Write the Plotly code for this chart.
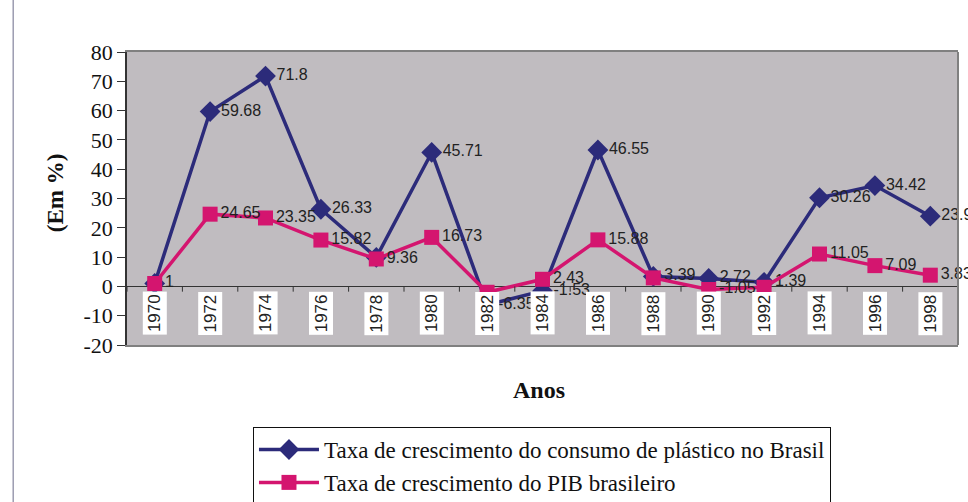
import plotly.graph_objects as go

years = ["1970", "1972", "1974", "1976", "1978", "1980", "1982", "1984",
         "1986", "1988", "1990", "1992", "1994", "1996", "1998"]
plastico = [1.0, 59.68, 71.8, 26.33, 9.9, 45.71, -6.35, -1.53, 46.55, 3.39,
            2.72, 1.39, 30.26, 34.42, 23.96]
plastico_labels = ["", "59.68", "71.8", "26.33", "", "45.71", "-6.35", "-1.53",
                   "46.55", "3.39", "2.72", "1.39", "30.26", "34.42", "23.96"]
pib = [1.0, 24.65, 23.35, 15.82, 9.36, 16.73, -2.0, 2.43, 15.88, 2.9,
       -1.05, -0.3, 11.05, 7.09, 3.83]
pib_labels = ["1", "24.65", "23.35", "15.82", "9.36", "16.73", "", "2.43",
              "15.88", "", "-1.05", "", "11.05", "7.09", "3.83"]
y_ticks = [-20, -10, 0, 10, 20, 30, 40, 50, 60, 70, 80]
y_tick_text = ["-20", "-10", "0", "10", "20", "30", "40", "50", "60", "70", "80"]

name_plast = "Taxa de crescimento do consumo de plástico no Brasil"
name_pib = "Taxa de crescimento do PIB brasileiro"

BLUE = "#2c2b7a"
PINK = "#d4156f"

fig = go.Figure()
fig.add_trace(go.Scatter(
    x=years, y=plastico, name=name_plast, mode="lines+markers+text",
    line=dict(color=BLUE, width=3.5),
    marker=dict(symbol="diamond", size=16, color=BLUE),
    text=plastico_labels, textposition="middle right",
    textfont=dict(family="Liberation Sans, Arial", size=16, color="#222"),
    cliponaxis=False))
fig.add_trace(go.Scatter(
    x=years, y=pib, name=name_pib, mode="lines+markers+text",
    line=dict(color=PINK, width=3.5),
    marker=dict(symbol="square", size=15, color=PINK),
    text=pib_labels, textposition="middle right",
    textfont=dict(family="Liberation Sans, Arial", size=16, color="#222"),
    cliponaxis=False))

annotations = []
for i, yr in enumerate(years):
    annotations.append(dict(
        x=i, y=0, xref="x", yref="y", text=yr, textangle=-90,
        showarrow=False, yanchor="top", xanchor="center", yshift=-5,
        bgcolor="white", borderpad=2,
        font=dict(family="Liberation Sans, Arial", size=17, color="#222")))
annotations.append(dict(
    x=-0.086, y=0.52, xref="paper", yref="paper", text="<b>(Em %)</b>",
    textangle=-90, showarrow=False, xanchor="center", yanchor="middle",
    font=dict(family="Liberation Serif, Times New Roman", size=23, color="#111")))
annotations.append(dict(
    x=0.496, y=-0.154, xref="paper", yref="paper", text="<b>Anos</b>",
    showarrow=False, xanchor="center", yanchor="middle",
    font=dict(family="Liberation Serif, Times New Roman", size=24, color="#111")))

shapes = []
for i in range(len(years) + 1):
    shapes.append(dict(type="line", xref="x", yref="y", x0=i - 0.5, x1=i - 0.5,
                       y0=0, y1=-1.8, line=dict(color="#333", width=1)))
shapes.append(dict(type="line", xref="paper", yref="paper", x0=1, x1=1, y0=0, y1=1,
                   line=dict(color="#808080", width=2)))
shapes.append(dict(type="rect", xref="paper", yref="paper", x0=-0.137, x1=1.2,
                   y0=-0.6, y1=1.3, line=dict(color="#6a6a8a", width=1)))

fig.update_layout(
    width=968, height=502,
    margin=dict(l=127, r=10, t=52, b=157, autoexpand=False),
    paper_bgcolor="white", plot_bgcolor="#c0bcc0",
    showlegend=True,
    legend=dict(x=0.1516, y=-0.28, xanchor="left", yanchor="top",
                bordercolor="#111", borderwidth=1, bgcolor="white",
                itemwidth=60, tracegroupgap=0,
                font=dict(family="Liberation Serif, Times New Roman", size=23, color="#111")),
    xaxis=dict(type="category", categoryorder="array", categoryarray=years,
               range=[-0.5, len(years) - 0.5], showticklabels=False, ticks="",
               showgrid=False, showline=True, mirror=True, linecolor="#808080",
               linewidth=2, zeroline=False),
    yaxis=dict(range=[-20, 80], tickmode="array", tickvals=y_ticks, ticktext=y_tick_text,
               ticks="outside", ticklen=8,
               tickcolor="#333", showgrid=False, showline=True, linecolor="#333",
               linewidth=1.5, zeroline=True, zerolinecolor="#333", zerolinewidth=1,
               tickfont=dict(family="Liberation Serif, Times New Roman", size=22, color="#111")),
    annotations=annotations, shapes=shapes,
)

fig.write_html("out.html", config={"displayModeBar": False},
               post_script="document.body.style.margin='0';")
